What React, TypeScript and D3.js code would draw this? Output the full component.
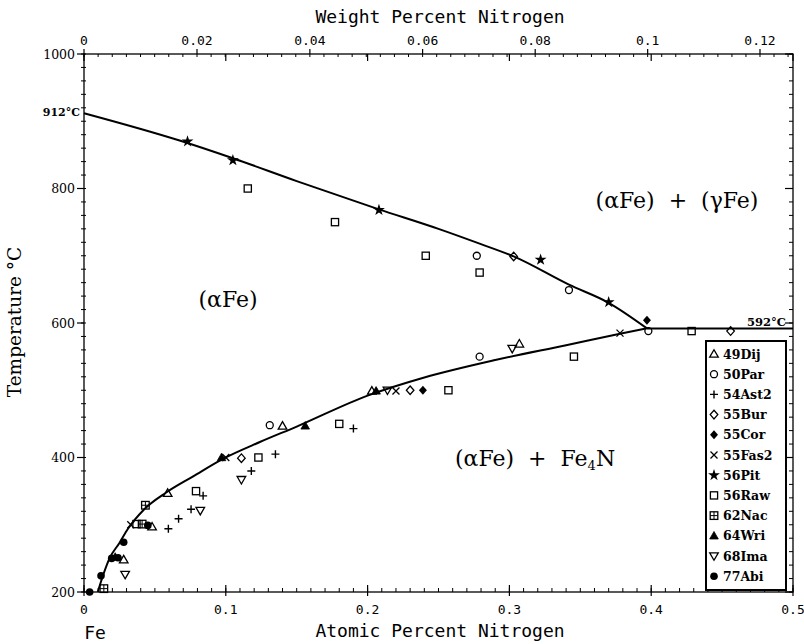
import React from "react";
import * as d3 from "d3";

// ---------- data (atomic % N, temperature °C) ----------
const upperBoundary: [number, number][] = [
  [0, 912], [0.068, 871], [0.105, 845], [0.15, 811], [0.208, 769], [0.25, 740],
  [0.279, 718], [0.303, 699], [0.342, 657], [0.37, 630], [0.397, 592],
];
const eutectoidLine: [number, number][] = [[0.397, 592], [0.5, 592]];
const lowerBoundary: [number, number][] = [
  [0.0097, 200], [0.013, 222], [0.018, 250], [0.025, 273], [0.031, 294], [0.042, 322],
  [0.058, 348], [0.077, 372], [0.098, 398], [0.124, 423], [0.15, 446], [0.2, 492],
  [0.24, 519], [0.29, 545], [0.34, 567], [0.378, 584], [0.397, 592],
];

const s49Dij: [number, number][] = [[0.307, 569], [0.203, 499], [0.14, 447], [0.059, 347], [0.048, 297], [0.028, 248]];
const s50Par: [number, number][] = [[0.277, 700], [0.342, 649], [0.398, 588], [0.279, 550], [0.131, 448]];
const s54Ast2: [number, number][] = [[0.19, 443], [0.135, 405], [0.118, 380], [0.084, 343], [0.0755, 323], [0.0667, 309], [0.0595, 294]];
const s55Bur: [number, number][] = [[0.303, 699], [0.456, 588], [0.23, 500], [0.111, 399]];
const s55Cor: [number, number][] = [[0.397, 604], [0.239, 500]];
const s55Fas2: [number, number][] = [[0.378, 585], [0.22, 499], [0.1, 400], [0.033, 300]];
const s56Pit: [number, number][] = [[0.073, 870], [0.105, 842], [0.208, 768], [0.322, 694], [0.37, 631]];
const s56Raw: [number, number][] = [
  [0.1155, 800], [0.177, 750], [0.241, 700], [0.279, 675], [0.4285, 588], [0.3455, 550],
  [0.257, 500], [0.18, 450], [0.123, 400], [0.079, 350], [0.037, 301],
];
const s62Nac: [number, number][] = [[0.0433, 329], [0.041, 301], [0.014, 205]];
const s64Wri: [number, number][] = [[0.206, 499], [0.156, 447], [0.097, 400], [0.022, 252]];
const s68Ima: [number, number][] = [[0.302, 562], [0.214, 500], [0.111, 367], [0.082, 321], [0.029, 226]];
const s77Abi: [number, number][] = [[0.004, 200], [0.012, 224], [0.0195, 250], [0.024, 251], [0.028, 274], [0.045, 299]];

const legendNames = ["49Dij", "50Par", "54Ast2", "55Bur", "55Cor", "55Fas2", "56Pit", "56Raw", "62Nac", "64Wri", "68Ima", "77Abi"];
const legendSymbols = ["triUp", "circle", "plus", "diamond", "diamondFill", "x", "star", "square", "squarePlus", "triFill", "triDown", "circleFill"];
const seriesData = [s49Dij, s50Par, s54Ast2, s55Bur, s55Cor, s55Fas2, s56Pit, s56Raw, s62Nac, s64Wri, s68Ima, s77Abi];

const tempTicks = [200, 400, 600, 800, 1000];
const atTicks = [0, 0.1, 0.2, 0.3, 0.4, 0.5];
const atTickLabels = ["0", "0.1", "0.2", "0.3", "0.4", "0.5"];
const wtTicks = [0, 0.02, 0.04, 0.06, 0.08, 0.1, 0.12];
const wtTickLabels = ["0", "0.02", "0.04", "0.06", "0.08", "0.1", "0.12"];

// wt% N -> at% N in Fe
function wtToAt(w: number): number {
  const n = w / 14.007;
  const f = (100 - w) / 55.845;
  return (n / (n + f)) * 100;
}

const X0 = 84, X1 = 793, YT = 54, YB = 592;
const x = d3.scaleLinear().domain([0, 0.5]).range([X0, X1]);
const y = d3.scaleLinear().domain([200, 1000]).range([YB, YT]);

const mono = "'DejaVu Sans Mono', 'Liberation Mono', monospace";
const serif = "'DejaVu Serif', 'Liberation Serif', serif";

const starPath = d3.symbol().type(d3.symbolStar).size(44)() as string;

function Marker({ type, cx, cy }: { type: string; cx: number; cy: number }) {
  const t = `translate(${cx},${cy})`;
  const sw = 1.3;
  switch (type) {
    case "triUp":
      return <path transform={t} d="M0,-4.3L4.3,3.2L-4.3,3.2Z" fill="none" stroke="#000" strokeWidth={sw} />;
    case "triFill":
      return <path transform={t} d="M0,-4.3L4.3,3.2L-4.3,3.2Z" fill="#000" stroke="#000" strokeWidth={0.8} />;
    case "triDown":
      return <path transform={t} d="M0,4.3L4.3,-3.2L-4.3,-3.2Z" fill="none" stroke="#000" strokeWidth={sw} />;
    case "circle":
      return <circle cx={cx} cy={cy} r={3.5} fill="none" stroke="#000" strokeWidth={sw} />;
    case "circleFill":
      return <circle cx={cx} cy={cy} r={3.8} fill="#000" />;
    case "plus":
      return <path transform={t} d="M-4,0H4M0,-4V4" fill="none" stroke="#000" strokeWidth={1.4} />;
    case "x":
      return <path transform={t} d="M-3.5,-3.5L3.5,3.5M-3.5,3.5L3.5,-3.5" fill="none" stroke="#000" strokeWidth={1.3} />;
    case "diamond":
      return <path transform={t} d="M0,-4.3L3.8,0L0,4.3L-3.8,0Z" fill="none" stroke="#000" strokeWidth={sw} />;
    case "diamondFill":
      return <path transform={t} d="M0,-4.5L4,0L0,4.5L-4,0Z" fill="#000" />;
    case "star":
      return <path transform={t} d={starPath} fill="#000" />;
    case "square":
      return <rect x={cx - 3.6} y={cy - 3.6} width={7.2} height={7.2} fill="none" stroke="#000" strokeWidth={sw} />;
    case "squarePlus":
      return (
        <g>
          <rect x={cx - 3.8} y={cy - 3.8} width={7.6} height={7.6} fill="none" stroke="#000" strokeWidth={sw} />
          <path transform={t} d="M-3.8,0H3.8M0,-3.8V3.8" fill="none" stroke="#000" strokeWidth={1} />
        </g>
      );
    default:
      return null;
  }
}

export default function App() {
  const line = d3.line<[number, number]>().x((d) => x(d[0])).y((d) => y(d[1])).curve(d3.curveMonotoneX);
  const straight = d3.line<[number, number]>().x((d) => x(d[0])).y((d) => y(d[1]));

  const tMinor = d3.range(200, 1001, 20);
  const atMinor = d3.range(0, 0.5001, 0.01);
  const wtMinor = d3.range(0, 0.1251, 0.0025);

  const legendX = 706, legendY = 341, legendW = 80, legendH = 249;

  return (
    <svg width={804} height={644} style={{ position: "absolute", left: 0, top: 0, background: "#fff" }}>
      <rect x={0} y={0} width={804} height={644} fill="#fff" />

      {/* frame */}
      <rect x={X0} y={YT} width={X1 - X0} height={YB - YT} fill="none" stroke="#000" strokeWidth={1.3} />

      {/* left axis ticks */}
      {tMinor.map((t) => (
        <line key={"lm" + t} x1={X0 - 3} x2={X0 + 2} y1={y(t)} y2={y(t)} stroke="#000" strokeWidth={1} />
      ))}
      {tempTicks.map((t) => (
        <line key={"lM" + t} x1={X0 - 7} x2={X0} y1={y(t)} y2={y(t)} stroke="#000" strokeWidth={1.2} />
      ))}
      {tempTicks.map((t) => (
        <text key={"lt" + t} x={X0 - 9} y={y(t) + 4.5} textAnchor="end" fontFamily={serif} fontSize={12.5} fill="#000">
          {t}
        </text>
      ))}
      {/* right axis ticks */}
      {tMinor.map((t) => (
        <line key={"rm" + t} x1={X1 - 4} x2={X1} y1={y(t)} y2={y(t)} stroke="#000" strokeWidth={1} />
      ))}
      {tempTicks.map((t) => (
        <line key={"rM" + t} x1={X1 - 8} x2={X1} y1={y(t)} y2={y(t)} stroke="#000" strokeWidth={1.2} />
      ))}

      {/* bottom axis ticks */}
      {atMinor.map((a, i) => (
        <line key={"bm" + i} x1={x(a)} x2={x(a)} y1={YB - 4} y2={YB} stroke="#000" strokeWidth={1} />
      ))}
      {atTicks.map((a) => (
        <line key={"bM" + a} x1={x(a)} x2={x(a)} y1={YB - 7} y2={YB + 4} stroke="#000" strokeWidth={1.2} />
      ))}
      {atTicks.map((a, i) => (
        <text key={"bt" + a} x={x(a)} y={614} textAnchor="middle" fontFamily={mono} fontSize={13} fill="#000">
          {atTickLabels[i]}
        </text>
      ))}

      {/* top axis: wt% ticks outward, at% ticks inward */}
      {wtMinor.map((w, i) => (
        <line key={"tm" + i} x1={x(wtToAt(w))} x2={x(wtToAt(w))} y1={YT} y2={YT + 3} stroke="#000" strokeWidth={1} />
      ))}
      {wtTicks.map((w) => (
        <line key={"tM" + w} x1={x(wtToAt(w))} x2={x(wtToAt(w))} y1={YT - 5} y2={YT} stroke="#000" strokeWidth={1.2} />
      ))}
      {atTicks.map((a) => (
        <line key={"tA" + a} x1={x(a)} x2={x(a)} y1={YT} y2={YT + 7} stroke="#000" strokeWidth={1.2} />
      ))}
      {wtTicks.map((w, i) => (
        <text key={"tt" + w} x={x(wtToAt(w))} y={45} textAnchor="middle" fontFamily={mono} fontSize={13} fill="#000">
          {wtTickLabels[i]}
        </text>
      ))}

      {/* titles */}
      <text x={440} y={23} textAnchor="middle" fontFamily={mono} fontSize={18} fill="#000">
        Weight Percent Nitrogen
      </text>
      <text x={440} y={637} textAnchor="middle" fontFamily={mono} fontSize={18} fill="#000">
        Atomic Percent Nitrogen
      </text>
      <text x={95} y={639} textAnchor="middle" fontFamily={mono} fontSize={18} fill="#000">
        Fe
      </text>
      <text transform="translate(21,322) rotate(-90)" textAnchor="middle" fontFamily={serif} fontSize={18.5} fill="#000">
        Temperature °C
      </text>

      {/* special labels */}
      <text x={80} y={116} textAnchor="end" fontFamily={serif} fontSize={11} fontWeight="bold" fill="#000">
        912°C
      </text>
      <text x={786} y={326} textAnchor="end" fontFamily={serif} fontSize={11.5} fontWeight="bold" fill="#000">
        592°C
      </text>

      {/* region labels */}
      <text x={677} y={208} textAnchor="middle" fontFamily={serif} fontSize={22} fill="#000" xmlSpace="preserve">
        (αFe)  +  (γFe)
      </text>
      <text x={228} y={307} textAnchor="middle" fontFamily={serif} fontSize={22} fill="#000">
        (αFe)
      </text>
      <text x={455} y={466} fontFamily={serif} fontSize={22} fill="#000" xmlSpace="preserve">
        (αFe)  +  Fe<tspan fontSize={13} dy={4}>4</tspan><tspan dy={-4}>N</tspan>
      </text>

      {/* boundaries */}
      <path d={line(upperBoundary) as string} fill="none" stroke="#000" strokeWidth={2} />
      <path d={line(lowerBoundary) as string} fill="none" stroke="#000" strokeWidth={2} />
      <path d={straight(eutectoidLine) as string} fill="none" stroke="#000" strokeWidth={2} />

      {/* data points */}
      {seriesData.map((s, si) =>
        s.map((d, i) => <Marker key={si + "-" + i} type={legendSymbols[si]} cx={x(d[0])} cy={y(d[1])} />)
      )}

      {/* legend */}
      <rect x={legendX} y={legendY} width={legendW} height={legendH} fill="#fff" stroke="#000" strokeWidth={2} />
      {legendNames.map((n, i) => (
        <g key={"lg" + n}>
          <Marker type={legendSymbols[i]} cx={legendX + 8} cy={legendY + 13 + i * 20.2} />
          <text x={legendX + 17} y={legendY + 17.5 + i * 20.2} fontFamily={serif} fontSize={12.5} fontWeight="bold" fill="#000">
            {n}
          </text>
        </g>
      ))}
    </svg>
  );
}
